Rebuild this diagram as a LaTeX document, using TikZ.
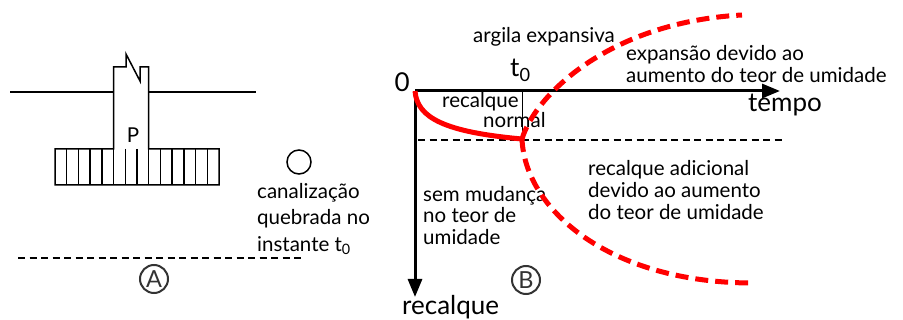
\documentclass[tikz,border=0pt]{standalone}
\usepackage{fontspec}
\setmainfont{Lato}
\usetikzlibrary{arrows.meta}

\begin{document}
\begin{tikzpicture}[x=1pt,y=-1pt,
    txt/.style={inner sep=0pt,align=left,font=\fontsize{20.5}{22}\selectfont},
    big/.style={inner sep=0pt,font=\fontsize{26}{28}\selectfont},
    axis/.style={line width=3pt,-{Triangle[length=18pt,width=14pt]}},
    thin/.style={line width=1.5pt},
    blackdash/.style={line width=1.5pt,dash pattern=on 7pt off 4.5pt},
    redcurve/.style={red,line width=5pt},
    reddash/.style={red,line width=5pt,dash pattern=on 13pt off 7pt},
    tag/.style={circle,draw=black!80,line width=2pt,minimum size=28pt,inner sep=0pt,
      text=black!80,font=\fontsize{23.5}{23.5}\selectfont}]

          \useasboundingbox (0,0) rectangle (903,320);

          % A : footing and broken pipe
          \draw[thin] (10,92)--(113.6,92);
          \draw[thin] (148.7,92)--(256,92);
          \draw[thin] (55,149)--(113.6,149)--(113.6,67)--(126,67)--(126,54)--(140,81)
            --(140,67)--(148.7,67)--(148.7,149)--(219,149)--(219,185)--(55,185)--cycle;
          \foreach \k in {1,...,13}{
            \draw[thin] (55+\k*11.714,149)--(55+\k*11.714,185);
          }
          \node[inner sep=0pt,font=\fontsize{20.5}{20.5}\selectfont] (P) at (133,135) {P};

          \node[circle,draw,thin,minimum size=24pt,inner sep=0pt] (pipe) at (299,162) {};
          \node[txt,font=\fontsize{20.5}{26.5}\selectfont,anchor=north west] (pipetext) at (257,183)
            {canalização\\quebrada no\\instante t\textsubscript{0}};

          \coordinate (gl) at (18,258);
          \coordinate (gr) at (303,258);
          \draw[blackdash] (gl)--(gr);
          \node[tag] (A) at (154,279) {A};

          % B : settlement against time
          \coordinate (O) at (415,91);
          \coordinate (tempoEnd) at (780,91);
          \coordinate (recEnd) at (415,297);
          \coordinate (t0) at (522,91);
          \coordinate (J) at (522,139);
          \coordinate (up) at (742,15);
          \coordinate (down) at (753,283);
          \coordinate (dl) at (418,140);
          \coordinate (dr) at (782,140);

          \draw[blackdash] (dl)--(dr);
          \draw[line width=1pt] (t0)--(522,134);
          \draw[axis] (O)--(tempoEnd);
          \draw[axis] (O)--(recEnd);

          \node[big,anchor=base east] (zero) at (410,92) {0};
          \node[big,anchor=base west] (tzero) at (510,77) {t\textsubscript{0}};
          \node[big,anchor=base west] (tempo) at (748,112) {tempo};
          \node[big,anchor=base west] (recalque) at (402,315) {recalque};

          \node[txt,anchor=base west] (argila) at (473,43) {argila expansiva};
          \node[txt,anchor=north west] (expansao) at (626,45) {expansão devido ao\\aumento do teor de umidade};
          \node[txt,anchor=base west] (rnormal) at (442,108) {recalque};
          \node[txt,anchor=base west] (normal) at (483,128) {normal};
          \node[txt,font=\fontsize{20.5}{21.5}\selectfont,anchor=north west] (semmud) at (423,186)
            {sem mudança\\no teor de\\umidade};
          \node[txt,anchor=north west] (adicional) at (588,160)
            {recalque adicional\\devido ao aumento\\do teor de umidade};

          \draw[redcurve] (O) .. controls (417,118) and (445,132) .. (J);
          \draw[reddash] (J) .. controls (535,95) and (610,22) .. (up);
          \draw[reddash] (J) .. controls (525,210) and (610,283) .. (down);

          \node[tag] (B) at (526,280) {B};
        \end{tikzpicture}
\end{document}
